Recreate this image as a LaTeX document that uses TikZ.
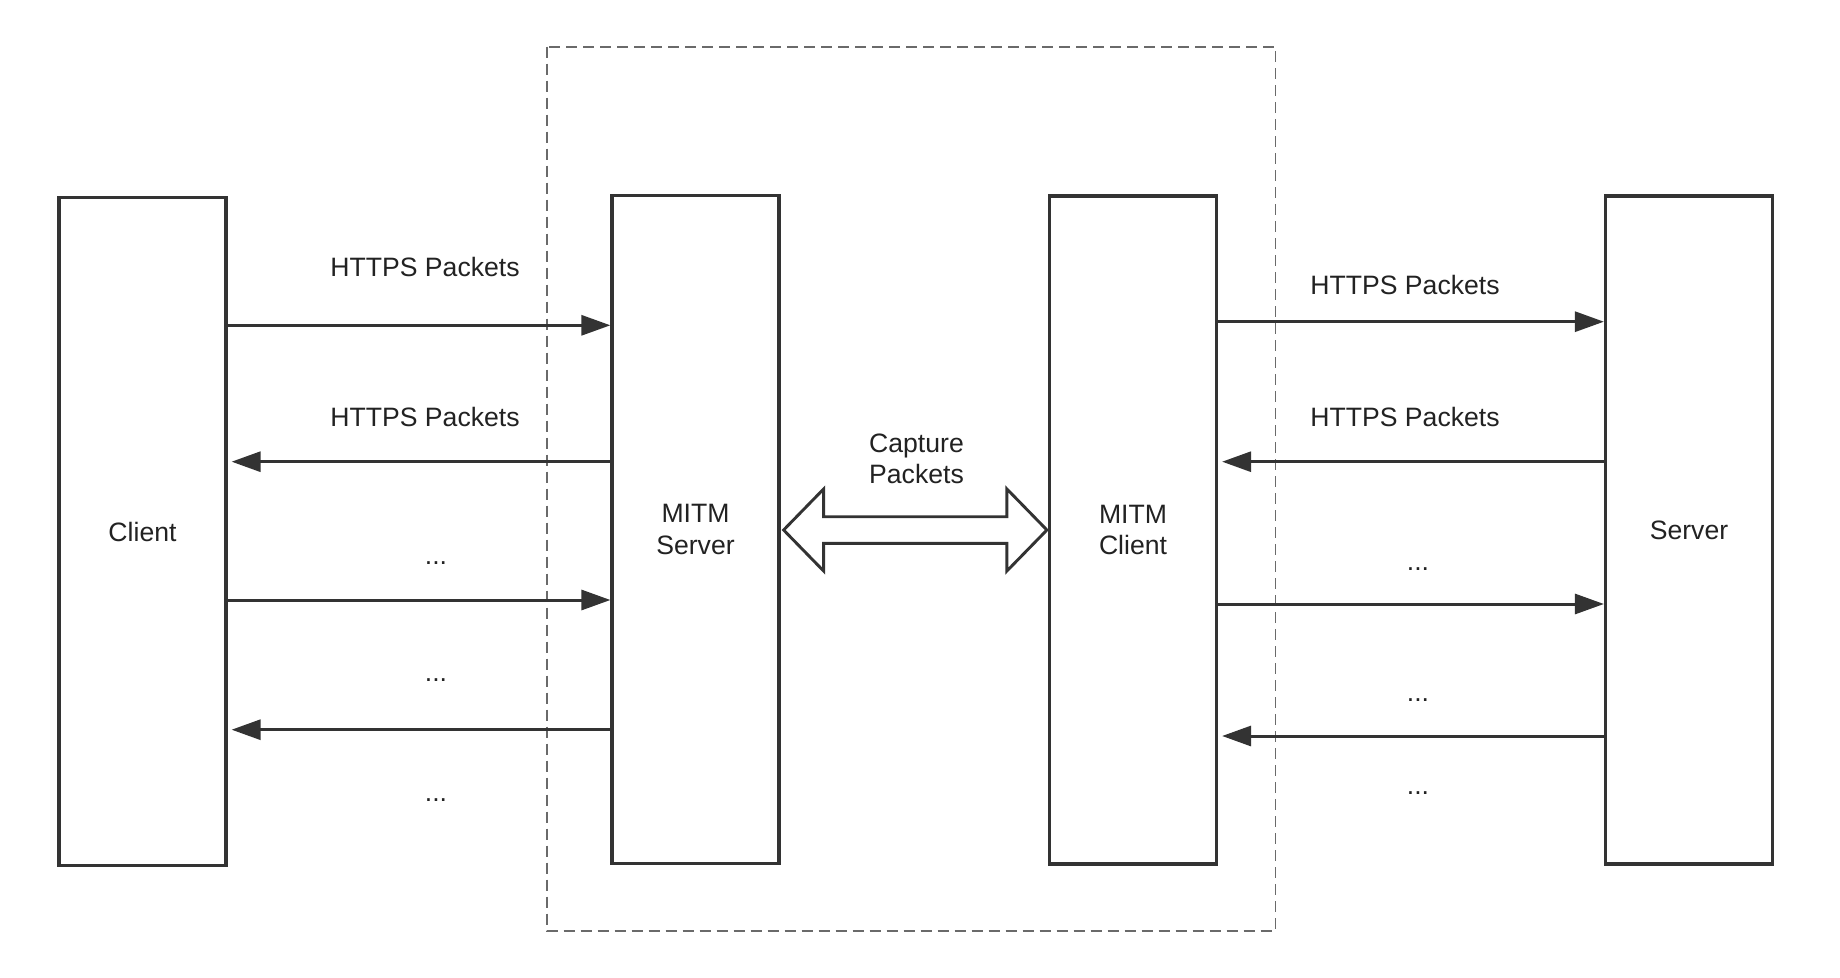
\documentclass[tikz,border=0pt]{standalone}
\usepackage{fontspec}
\setmainfont{Liberation Sans}
\usetikzlibrary{arrows.meta,calc}
\definecolor{ink}{HTML}{333333}
\definecolor{txt}{HTML}{222222}
\definecolor{dashc}{HTML}{6A6A6A}
\begin{document}
\begin{tikzpicture}[x=0.5pt,y=-0.5pt,
  every node/.style={font=\fontsize{13.3}{15.6}\selectfont, text=txt},
  box/.style={draw=ink, line width=1.6pt, fill=white, minimum width=83.5pt, minimum height=334pt, align=center, inner sep=0pt},
  lbl/.style={anchor=base, inner sep=0pt, align=center},
  arr/.style={draw=ink, line width=1.5pt, -{Triangle[length=14.5pt,width=10pt]}},
  arrl/.style={arr, shorten >=2pt},
  dashbox/.style={draw=dashc, line width=0.85pt, dash pattern=on 5.5pt off 3pt},
  bigarrow/.style={draw=ink, line width=1.45pt, fill=white, line join=miter}
]
\useasboundingbox[fill=white] (0,0) rectangle (1840,978);

% dashed MITM region
\draw[dashbox] (547,46.7) rectangle (1275.6,931);

% boxes
\node[box] (cl) at (142.5,531.5) {Client};
\node[box] (ms) at (695.5,529.5) {MITM\\Server};
\node[box] (mc) at (1133,530) {MITM\\Client};
\node[box] (sv) at (1689,530) {Server};

% left side arrows
\draw[arr]  (cl.east |- 0,325.3) -- (ms.west |- 0,325.3);
\draw[arrl] (ms.west |- 0,461.7) -- (cl.east |- 0,461.7);
\draw[arr]  (cl.east |- 0,600)   -- (ms.west |- 0,600);
\draw[arrl] (ms.west |- 0,729.7) -- (cl.east |- 0,729.7);

% right side arrows
\draw[arr]  (mc.east |- 0,321.7) -- (sv.west |- 0,321.7);
\draw[arrl] (sv.west |- 0,461.7) -- (mc.east |- 0,461.7);
\draw[arr]  (mc.east |- 0,604)   -- (sv.west |- 0,604);
\draw[arrl] (sv.west |- 0,736)   -- (mc.east |- 0,736);

% labels left
\node[lbl] (t1) at (425,276.7) {HTTPS Packets};
\node[lbl] (t2) at (425,426) {HTTPS Packets};
\node[lbl] (d1) at (436,564) {...};
\node[lbl] (d2) at (436,681.5) {...};
\node[lbl] (d3) at (436,801.5) {...};

% labels right
\node[lbl] (t3) at (1405,294.3) {HTTPS Packets};
\node[lbl] (t4) at (1405,426.7) {HTTPS Packets};
\node[lbl] (d4) at (1418,570) {...};
\node[lbl] (d5) at (1418,701.5) {...};
\node[lbl] (d6) at (1418,794) {...};

% capture double arrow
\coordinate (capL) at ($(ms.east |- 0,530)+(3,0)$);
\coordinate (capR) at ($(mc.west |- 0,530)+(-1,0)$);
\draw[bigarrow] (capL) -- ($(capL)+(40,-41)$) -- ($(capL)+(40,-13.3)$)
  -- ($(capR)+(-40,-13.3)$) -- ($(capR)+(-40,-41)$) -- (capR)
  -- ($(capR)+(-40,41)$) -- ($(capR)+(-40,13.3)$)
  -- ($(capL)+(40,13.3)$) -- ($(capL)+(40,41)$) -- cycle;
\node[lbl, anchor=south] (cap) at (916.5,484) {Capture\\Packets};
\end{tikzpicture}
\end{document}
